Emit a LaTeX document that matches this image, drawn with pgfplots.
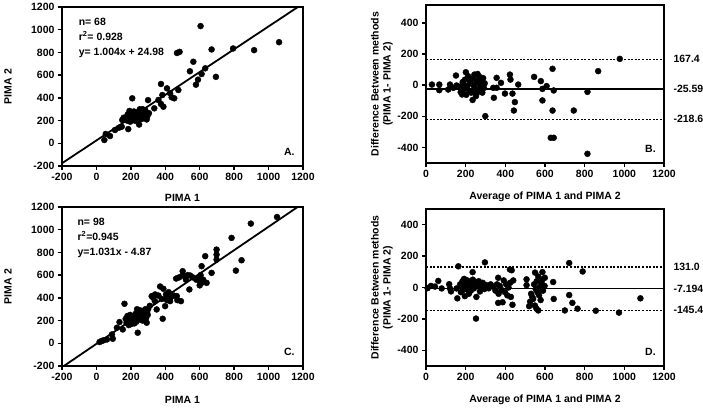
\documentclass[border=0pt]{standalone}
\usepackage{fontspec}
\setmainfont{Liberation Sans}
\usepackage{pgfplots}
\pgfplotsset{compat=1.18}
\begin{document}
\begin{tikzpicture}
\useasboundingbox (0pt,0pt) rectangle (703pt,408pt);
\pgfplotsset{
  base/.style={scale only axis, anchor=south west, tick pos=left, tick align=outside,
    major tick length=4pt, axis line style={line width=1.9pt, black},
    major tick style={line width=1.4pt, black},
    tick label style={font=\bfseries\fontsize{10.5}{12}\selectfont},
    label style={font=\bfseries\fontsize{10.5}{12}\selectfont},
    /pgf/number format/assume math mode=true, /pgf/number format/1000 sep={}},
  dots/.style={only marks, mark=*, mark size=3pt, black},
}
\tikzset{
  annot/.style={anchor=north west, align=left, font=\bfseries\fontsize{10.5}{15}\selectfont},
  letter/.style={anchor=south east, font=\bfseries\fontsize{10.5}{12}\selectfont},
  rlab/.style={anchor=west, xshift=6pt, font=\bfseries\fontsize{10.5}{12}\selectfont},
}
% ---------------- A ----------------
\begin{axis}[base, at={(62pt,242pt)}, width=241pt, height=159pt,
  xmin=-200, xmax=1200, ymin=-200, ymax=1200,
  xtick={-200,0,...,1200}, ytick={-200,0,...,1200},
  xlabel={PIMA 1}, ylabel={PIMA 2},
  xlabel style={at={(axis description cs:0.5,-0.2)}, anchor=center},
  ylabel style={at={(axis description cs:-0.224,0.5)}, anchor=center}]
\addplot[black, line width=1.8pt] coordinates {(-200,-175.8) (1200,1229.8)};
\addplot[dots] coordinates {
(46,29)(54,82)(79,64)(108,117)(131,137)(147,146)(185,125)(208,396)(300,380)(336,308)
(375,522)(383,425)(389,322)(360,381)(410,484)(428,440)(437,405)(452,396)(476,469)(468,795)
(483,805)(543,634)(563,718)(578,516)(590,560)(605,1032)(611,610)(632,660)(669,826)(694,585)
(794,835)(916,820)(1061,890)(375,346)
(150,205)(158,225)(165,215)(172,230)(178,200)(182,255)(188,220)(192,285)(196,190)(200,240)
(205,265)(208,210)(212,230)(218,280)(222,200)(226,250)(230,215)(235,270)(240,190)(244,230)
(248,165)(252,300)(256,255)(260,280)(264,215)(268,300)(272,245)(276,270)(280,225)(284,290)
(288,250)(292,210)(296,240)(305,265)
};
\node[annot] at (rel axis cs:0.055,0.955) {n= 68\\r\textsuperscript{2}= 0.928\\y= 1.004x + 24.98};
\node[letter] at (rel axis cs:0.98,0.045) {A.};
\end{axis}
% ---------------- B ----------------
\begin{axis}[base, at={(426pt,245pt)}, width=238pt, height=158pt, clip=false,
  xmin=0, xmax=1200, ymin=-500, ymax=515,
  xtick={0,200,...,1200}, ytick={-400,-200,0,200,400},
  xlabel={Average of PIMA 1 and PIMA 2},
  ylabel={Difference Between methods\\(PIMA 1- PIMA 2)},
  xlabel style={at={(axis description cs:0.5,-0.215)}, anchor=center},
  ylabel style={at={(axis description cs:-0.185,0.5)}, anchor=center, align=center}]
\addplot[black, line width=1.3pt] coordinates {(0,-25.59) (1200,-25.59)};
\addplot[black, line width=1.2pt, dash pattern=on 2pt off 1.6pt] coordinates {(0,167.4) (1200,167.4)};
\addplot[black, line width=1.2pt, dash pattern=on 2pt off 1.6pt] coordinates {(0,-218.6) (1200,-218.6)};
\addplot[dots] coordinates {
(30,4)(67,4)(67,-32)(112,-28)(121,4)(138,-17)(151,62)(154,-2)(170,-10)(185,20)
(201,83)(235,-95)(252,-70)(299,-199)(339,-17)(342,-81)(356,47)(356,-17)(378,15)(398,-54)
(423,68)(426,36)(436,-54)(443,-163)(448,-109)(465,4)(545,53)(579,26)(587,-24)(587,-98)
(608,-6)(638,105)(644,-34)(638,-163)(629,-338)(644,-338)(745,-163)(814,-43)(814,-441)(868,90)
(977,169)
(175,-45)(182,-60)(188,12)(192,-25)(196,35)(203,-62)(208,-5)(212,58)(218,-35)(222,22)
(228,-48)(232,42)(238,0)(244,68)(248,-22)(252,32)(256,-52)(260,72)(264,12)(268,-32)
(272,52)(276,-12)(280,28)(284,-48)(288,45)(292,-18)(296,12)
};
\node[rlab] at (axis cs:1200,167.4) {167.4};
\node[rlab] at (axis cs:1200,-25.59) {-25.59};
\node[rlab] at (axis cs:1200,-218.6) {-218.6};
\node[letter] at (rel axis cs:0.98,0.045) {B.};
\end{axis}
% ---------------- C ----------------
\begin{axis}[base, at={(62pt,42pt)}, width=241pt, height=159pt,
  xmin=-200, xmax=1200, ymin=-200, ymax=1200,
  xtick={-200,0,...,1200}, ytick={-200,0,...,1200},
  xlabel={PIMA 1}, ylabel={PIMA 2},
  xlabel style={at={(axis description cs:0.5,-0.21)}, anchor=center},
  ylabel style={at={(axis description cs:-0.224,0.5)}, anchor=center}]
\addplot[black, line width=1.8pt] coordinates {(-200,-211.1) (1200,1232.3)};
\addplot[dots] coordinates {
(18,11)(30,20)(41,26)(61,34)(90,78)(95,40)(119,137)(134,187)(153,122)(163,348)
(240,93)(292,181)(321,415)(341,430)(350,298)(385,216)(389,480)(399,327)(404,430)(428,371)
(467,415)(463,570)(491,371)(501,635)(515,585)(540,474)(544,597)(592,576)(611,532)(611,679)
(632,767)(640,532)(669,620)(698,825)(698,781)(698,737)(785,928)(810,640)(843,731)(897,1054)
(1049,1112)
(480,580)(500,600)(520,560)(530,600)(560,580)(580,560)(600,550)(605,600)(620,560)(600,510)
(450,420)(470,380)(430,400)(410,380)(420,450)(380,390)(370,500)(360,420)(340,370)(330,400)
(310,330)(300,300)
(170,215)(175,180)(180,240)(184,200)(188,160)(190,225)(194,190)(196,250)(200,205)(202,170)
(205,235)(208,215)(210,185)(214,200)(218,240)(220,175)(224,210)(228,260)(232,190)(236,300)
(240,230)(244,270)(248,210)(252,290)(256,250)(260,230)(264,285)(268,200)(272,260)(276,245)
(280,280)(284,300)(288,220)(294,270)(298,250)
};
\node[annot] at (rel axis cs:0.05,0.955) {n= 98\\r\textsuperscript{2}=0.945\\y=1.031x - 4.87};
\node[letter] at (rel axis cs:0.98,0.045) {C.};
\end{axis}
% ---------------- D ----------------
\begin{axis}[base, at={(426pt,42pt)}, width=238pt, height=157pt, clip=false,
  xmin=0, xmax=1200, ymin=-500, ymax=500,
  xtick={0,200,...,1200}, ytick={-400,-200,0,200,400},
  xlabel={Average of PIMA 1 and PIMA 2},
  ylabel={Difference Between methods\\(PIMA 1- PIMA 2)},
  xlabel style={at={(axis description cs:0.5,-0.217)}, anchor=center},
  ylabel style={at={(axis description cs:-0.185,0.5)}, anchor=center, align=center}]
\addplot[black, line width=1.3pt] coordinates {(0,-7.194) (1200,-7.194)};
\addplot[black, line width=1.2pt, dash pattern=on 2pt off 1.6pt] coordinates {(0,131.0) (1200,131.0)};
\addplot[black, line width=1.2pt, dash pattern=on 2pt off 1.6pt] coordinates {(0,-145.4) (1200,-145.4)};
\addplot[dots] coordinates {
(8,-4)(25,10)(45,6)(62,42)(79,-6)(117,21)(121,-6)(126,-25)(154,-6)(158,-69)
(163,135)(235,98)(297,160)(252,-198)(364,62)(364,-98)(386,-94)(423,115)(436,-110)(507,52)
(507,15)(520,-119)(540,-73)(549,-115)(557,-135)(566,-146)(587,98)(587,52)(599,62)(641,35)
(644,-73)(700,-146)(722,156)(722,-48)(738,-98)(764,-135)(790,102)(856,-148)(973,-160)(1081,-69)
(172,20)(176,-30)(180,5)(184,40)(188,-15)(192,55)(196,-55)(200,25)(204,-10)(208,45)
(212,0)(216,-40)(220,30)(226,-20)(230,10)(236,50)(242,-5)(248,35)(254,-60)(260,15)
(266,40)(272,-25)(278,5)(286,30)(294,-10)(304,15)(316,-5)(326,20)
(340,5)(350,-20)(358,20)(366,-40)(372,10)(380,-15)(392,45)(398,-30)(404,20)(410,-50)
(416,0)(424,30)(428,-60)(432,110)(440,45)
(525,-90)(530,-40)(536,-60)(545,20)(550,95)(553,-10)(558,40)(562,-30)(566,70)(570,-50)
(574,5)(578,-80)(582,30)(590,-20)(598,10)
};
\node[rlab] at (axis cs:1200,131.0) {131.0};
\node[rlab] at (axis cs:1200,-7.194) {-7.194};
\node[rlab] at (axis cs:1200,-145.4) {-145.4};
\node[letter] at (rel axis cs:0.98,0.045) {D.};
\end{axis}
\end{tikzpicture}
\end{document}
